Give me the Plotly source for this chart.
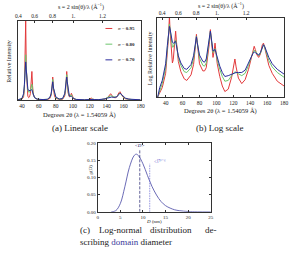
import math
import plotly.graph_objects as go

W, H = 290, 258

# ---------------- data ----------------
two_theta = [30.5, 33, 36, 40, 42, 43, 43.8, 44.5, 45.2, 46, 47, 48, 49, 50, 51, 51.8, 52.6, 53.5, 55, 58,
             62, 65, 70, 73, 74.5, 75.5, 76.4, 77.3, 78.5, 80, 84, 86, 88, 90.5, 91.5, 92.3, 92.9, 93.5, 94.5, 96,
             97.3, 98.4, 99.5, 101, 104, 107, 110, 114, 118, 120.5, 121.9, 123.3, 126, 130, 134, 138, 141, 143.3,
             144.7, 146, 148, 150, 152, 154.3, 155.7, 157, 159, 162, 166, 172, 180]

# linear relative intensity
lin_095 = [0, 0, 0.003, 0.01, 0.04, 0.14, 0.45, 1.0, 0.40, 0.13, 0.05, 0.03, 0.04, 0.08, 0.22, 0.36, 0.18, 0.07, 0.03, 0.01,
           0.004, 0.003, 0.006, 0.02, 0.06, 0.15, 0.29, 0.14, 0.05, 0.02, 0.006, 0.006, 0.01, 0.05, 0.12, 0.27, 0.36, 0.25, 0.09, 0.04,
           0.05, 0.085, 0.045, 0.015, 0.004, 0.001, 0.0005, 0.001, 0.005, 0.015, 0.025, 0.013, 0.004, 0.002, 0.004, 0.012, 0.03, 0.065,
           0.08, 0.06, 0.035, 0.028, 0.04, 0.09, 0.105, 0.08, 0.04, 0.016, 0.007, 0.003, 0.001]
lin_080 = [0, 0, 0.005, 0.015, 0.06, 0.17, 0.38, 0.57, 0.40, 0.20, 0.12, 0.10, 0.10, 0.12, 0.17, 0.20, 0.14, 0.07, 0.03, 0.012,
           0.006, 0.005, 0.009, 0.03, 0.07, 0.15, 0.26, 0.15, 0.07, 0.03, 0.01, 0.01, 0.015, 0.07, 0.14, 0.26, 0.32, 0.24, 0.11, 0.05,
           0.055, 0.065, 0.045, 0.02, 0.007, 0.003, 0.002, 0.002, 0.006, 0.012, 0.016, 0.012, 0.006, 0.004, 0.006, 0.015, 0.03, 0.05,
           0.055, 0.05, 0.038, 0.035, 0.045, 0.08, 0.09, 0.075, 0.045, 0.02, 0.01, 0.005, 0.002]
lin_070 = [0, 0.001, 0.006, 0.02, 0.08, 0.20, 0.38, 0.48, 0.38, 0.22, 0.14, 0.12, 0.12, 0.12, 0.13, 0.13, 0.10, 0.06, 0.03, 0.012,
           0.007, 0.006, 0.01, 0.035, 0.08, 0.15, 0.23, 0.15, 0.08, 0.04, 0.013, 0.012, 0.02, 0.08, 0.15, 0.25, 0.29, 0.23, 0.12, 0.05,
           0.045, 0.045, 0.035, 0.02, 0.008, 0.004, 0.003, 0.003, 0.006, 0.009, 0.01, 0.009, 0.007, 0.005, 0.007, 0.015, 0.025, 0.035,
           0.04, 0.038, 0.033, 0.032, 0.04, 0.07, 0.085, 0.075, 0.05, 0.025, 0.012, 0.006, 0.003]

# log relative intensity (normalised display units)
log_095 = [0.00, 0.05, 0.12, 0.30, 0.52, 0.70, 0.86, 1.02, 0.84, 0.70, 0.52, 0.43, 0.47, 0.60, 0.76, 0.83, 0.72, 0.58, 0.45, 0.32,
           0.23, 0.21, 0.28, 0.41, 0.53, 0.67, 0.79, 0.67, 0.52, 0.42, 0.33, 0.33, 0.37, 0.55, 0.66, 0.78, 0.85, 0.78, 0.64, 0.50,
           0.58, 0.68, 0.57, 0.42, 0.26, 0.14, 0.07, 0.10, 0.25, 0.40, 0.48, 0.38, 0.24, 0.17, 0.22, 0.35, 0.50, 0.61,
           0.64, 0.60, 0.53, 0.50, 0.54, 0.66, 0.68, 0.63, 0.52, 0.40, 0.30, 0.20, 0.14]
log_080 = [0.00, 0.09, 0.17, 0.37, 0.60, 0.75, 0.85, 0.92, 0.86, 0.78, 0.67, 0.63, 0.63, 0.66, 0.70, 0.72, 0.68, 0.60, 0.50, 0.40,
           0.32, 0.31, 0.37, 0.48, 0.58, 0.68, 0.77, 0.68, 0.57, 0.49, 0.40, 0.39, 0.43, 0.60, 0.69, 0.78, 0.83, 0.78, 0.68, 0.56,
           0.58, 0.61, 0.56, 0.47, 0.35, 0.26, 0.20, 0.21, 0.27, 0.30, 0.32, 0.31, 0.29, 0.27, 0.30, 0.40, 0.50, 0.57,
           0.59, 0.58, 0.54, 0.52, 0.55, 0.63, 0.66, 0.63, 0.56, 0.46, 0.38, 0.31, 0.25]
log_070 = [0.00, 0.12, 0.21, 0.42, 0.65, 0.78, 0.85, 0.89, 0.86, 0.80, 0.72, 0.69, 0.68, 0.68, 0.70, 0.70, 0.66, 0.60, 0.52, 0.43,
           0.36, 0.35, 0.41, 0.52, 0.62, 0.70, 0.76, 0.69, 0.60, 0.53, 0.45, 0.44, 0.48, 0.63, 0.71, 0.79, 0.83, 0.78, 0.70, 0.58,
           0.59, 0.60, 0.56, 0.50, 0.39, 0.31, 0.26, 0.27, 0.29, 0.30, 0.31, 0.31, 0.31, 0.31, 0.34, 0.42, 0.50, 0.55,
           0.57, 0.56, 0.54, 0.53, 0.56, 0.62, 0.66, 0.64, 0.58, 0.50, 0.42, 0.35, 0.29]

series_names = ["σ = 0.95", "σ = 0.80", "σ = 0.70"]
series_colors = ["#e2393b", "#6cc56c", "#2b2b9c"]

deg_ticks = [40, 60, 80, 100, 120, 140, 160, 180]
s_ticks = [0.4, 0.6, 0.8, 1.0, 1.2]
s_ticktext = ["0.4", "0.6", "0.8", "1.", "1.2"]
wavelength = 1.54059

# log-normal domain size distribution
D_nm = [3, 4, 5, 6, 7, 8, 8.5, 9, 10, 11, 12, 13, 14, 15, 16, 17, 18, 19, 20, 22, 25]
g_D = [0.0001, 0.0034, 0.024, 0.073, 0.129, 0.163, 0.168, 0.164, 0.140, 0.106, 0.074, 0.049, 0.030, 0.018,
       0.011, 0.006, 0.0035, 0.002, 0.0011, 0.0003, 0.0]
D_mean = 9.3
D_vol = 11.5

# ---------------- helpers ----------------
def px(x):
    return x / W

def py(y):
    return 1 - y / H

SERIF = "Liberation Serif"
AX = "#333333"

s_pos = [2 * math.degrees(math.asin(s * wavelength / 2)) for s in s_ticks]

fig = go.Figure()

lin_series = [lin_095, lin_080, lin_070]
log_series = [log_095, log_080, log_070]
for name, col, ys in zip(series_names, series_colors, lin_series):
    fig.add_trace(go.Scatter(x=two_theta, y=ys, mode="lines", name=name,
                             line=dict(color=col, width=1), xaxis="x", yaxis="y", showlegend=False))
for name, col, ys in zip(series_names, series_colors, log_series):
    fig.add_trace(go.Scatter(x=two_theta, y=ys, mode="lines", name=name,
                             line=dict(color=col, width=1), xaxis="x3", yaxis="y3", showlegend=False))
# empty traces so the top (s) axes get drawn
fig.add_trace(go.Scatter(x=[], y=[], mode="lines", xaxis="x2", yaxis="y", showlegend=False, hoverinfo="skip"))
fig.add_trace(go.Scatter(x=[], y=[], mode="lines", xaxis="x4", yaxis="y3", showlegend=False, hoverinfo="skip"))

fig.add_trace(go.Scatter(x=D_nm, y=g_D, mode="lines", line=dict(color="#5a5aae", width=0.9, shape="spline"),
                         xaxis="x5", yaxis="y5", showlegend=False))
fig.add_trace(go.Scatter(x=[D_mean, D_mean], y=[0, 0.183], mode="lines",
                         line=dict(color="#1c1c6a", width=0.7, dash="3px,1.5px"), xaxis="x5", yaxis="y5",
                         showlegend=False))
fig.add_trace(go.Scatter(x=[D_vol, D_vol], y=[0, 0.14], mode="lines",
                         line=dict(color="#6a6ad2", width=0.7, dash="1.5px,1px"), xaxis="x5", yaxis="y5",
                         showlegend=False))

tickfont = dict(family=SERIF, size=5.5, color="#222")
small_tickfont = dict(family=SERIF, size=5, color="#222")

common_x = dict(showgrid=False, zeroline=False, showline=True, linecolor=AX, linewidth=0.8,
                ticks="inside", ticklen=2, tickcolor=AX, tickwidth=0.6, ticklabeloverflow="allow")
common_y = dict(showgrid=False, zeroline=False, showline=True, linecolor=AX, linewidth=0.8)

fig.update_layout(
    width=W, height=H, margin=dict(l=0, r=0, t=0, b=0),
    paper_bgcolor="white", plot_bgcolor="white",
    font=dict(family=SERIF, color="#222"),
    xaxis=dict(domain=[px(15), px(141)], range=[35, 180], tickvals=deg_ticks, tickfont=tickfont,
               anchor="y", **common_x),
    yaxis=dict(domain=[py(100), py(19)], range=[0, 1.0], showticklabels=False, mirror=True,
               ticks="", anchor="x", **common_y),
    xaxis2=dict(overlaying="x", side="top", anchor="y", range=[35, 180], tickvals=s_pos,
                ticktext=s_ticktext, tickfont=tickfont, **common_x),
    xaxis3=dict(domain=[px(158), px(288)], range=[30, 180], tickvals=deg_ticks, tickfont=tickfont,
                anchor="y3", **common_x),
    yaxis3=dict(domain=[py(97), py(16)], range=[0, 1.0], showticklabels=False, mirror=True,
                ticks="", anchor="x3", **common_y),
    xaxis4=dict(overlaying="x3", side="top", anchor="y3", range=[30, 180], tickvals=s_pos,
                ticktext=s_ticktext, tickfont=tickfont, **common_x),
    xaxis5=dict(domain=[px(97), px(213)], range=[0, 25], dtick=5, tickfont=small_tickfont,
                anchor="y5", mirror="ticks", **common_x),
    yaxis5=dict(domain=[py(214), py(144)], range=[0, 0.2], dtick=0.05, tickformat=".2f",
                tickfont=small_tickfont, anchor="x5", mirror="ticks", ticks="inside", ticklen=2,
                tickcolor=AX, tickwidth=0.6, **common_y),
)

ann = []
def add_text(x, y, text, size=6, angle=0, xanchor="center", color="#222"):
    ann.append(dict(x=px(x), y=py(y), xref="paper", yref="paper", text=text, showarrow=False,
                    font=dict(family=SERIF, size=size, color=color), textangle=angle,
                    xanchor=xanchor, yanchor="middle"))

s_title = "s = 2 sin(θ)/λ (Å<sup>−1</sup>)"
add_text(80, 5, s_title, 6)
add_text(223, 4, s_title, 6)
add_text(6, 60, "Relative Intensity", 6, -90)
add_text(151, 57, "Log Relative Intensity", 6, -90)
add_text(78, 115, "Degrees 2θ (λ = 1.54059 Å)", 6.5)
add_text(223, 111, "Degrees 2θ (λ = 1.54059 Å)", 6.5)
add_text(79, 128, "(a) Linear scale", 9)
add_text(222, 128, "(b) Log scale", 9)

# legend of panel (a)
legend_y = [27, 43, 59]
shapes = []
for name, col, ly in zip(series_names, series_colors, legend_y):
    shapes.append(dict(type="line", xref="paper", yref="paper", x0=px(105), x1=px(112),
                       y0=py(ly), y1=py(ly), line=dict(color=col, width=1)))
    add_text(116, ly, f"<i>σ</i> = <b>{name.split('= ')[1]}</b>", 5, xanchor="left")

# panel (c) texts
add_text(155, 224, "<i>D</i> (nm)", 5)
add_text(90, 171, "<i>g</i>(<i>D</i>)", 5, -90)
ann.append(dict(x=D_mean, y=0.192, xref="x5", yref="y5", text="&lt;<i>D</i>&gt;", showarrow=False,
                font=dict(family=SERIF, size=5, color="#1c1c6a")))
ann.append(dict(x=D_vol + 0.2, y=0.148, xref="x5", yref="y5", text="&lt;<i>D</i>&gt;<sub>V</sub>",
                showarrow=False, xanchor="left", textangle=-15,
                font=dict(family=SERIF, size=5, color="#6a6ad2")))

# caption (c), justified first line
words1 = [("(c)", 77), ("Log-normal", 96), ("distribution", 149), ("de-", 205)]
for w, x in words1:
    add_text(x, 233, w, 9, xanchor="left")
add_text(77, 245, "scribing <span style='color:#3a3a9a'>domain</span> diameter", 9, xanchor="left")

fig.update_layout(annotations=ann, shapes=shapes)
fig.write_html("out.html")
